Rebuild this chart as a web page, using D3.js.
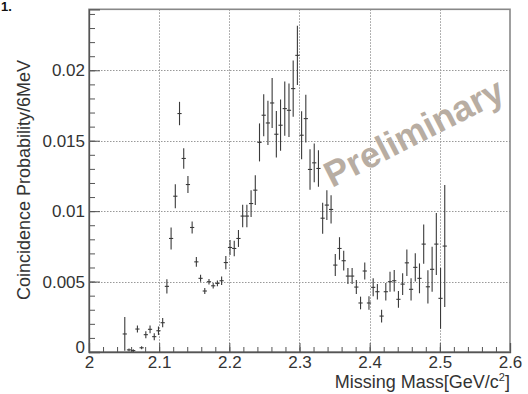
<!DOCTYPE html>
<html>
<head>
<meta charset="utf-8">
<script src="https://cdn.jsdelivr.net/npm/d3@7"></script>
<style>
  html, body { margin: 0; padding: 0; background: #fff; }
  svg { display: block; }
  text { font-family: "Liberation Sans", Arial, Helvetica, sans-serif; fill: #333; }
</style>
</head>
<body>
<svg id="chart" width="528" height="394"></svg>
<script>
// bin centres (6 MeV bins), GeV/c^2
const massCenters = [
  2.051, 2.057, 2.063, 2.069, 2.075, 2.081, 2.087, 2.093, 2.099, 2.105,
  2.111, 2.117, 2.123, 2.129, 2.135, 2.141, 2.147, 2.153, 2.159, 2.165,
  2.171, 2.177, 2.183, 2.189, 2.195, 2.201, 2.207, 2.213, 2.219, 2.225,
  2.231, 2.237, 2.243, 2.249, 2.255, 2.261, 2.267, 2.273, 2.279, 2.285,
  2.291, 2.297, 2.303, 2.309, 2.315, 2.321, 2.327, 2.333, 2.339, 2.345,
  2.351, 2.357, 2.363, 2.369, 2.375, 2.381, 2.387, 2.393, 2.399, 2.405,
  2.411, 2.417, 2.423, 2.429, 2.435, 2.441, 2.447, 2.453, 2.459, 2.465,
  2.471, 2.477, 2.483, 2.489, 2.495, 2.501, 2.507
];
const probValues = [
  0.00128, 0.00015, 0.0001, 0.00163, 0.0003, 0.00123, 0.00161, 0.00109, 0.00151, 0.00208,
  0.00466, 0.00806, 0.01106, 0.01693, 0.01374, 0.01189, 0.00884, 0.0064, 0.00523, 0.00433,
  0.00499, 0.0047, 0.00487, 0.00506, 0.00635, 0.00742, 0.00735, 0.00806, 0.00965, 0.00965,
  0.01054, 0.01149, 0.01488, 0.01681, 0.01626, 0.01768, 0.01546, 0.0161, 0.01728, 0.01716,
  0.0187, 0.02106, 0.01539, 0.01657, 0.01296, 0.01343, 0.01303, 0.0095, 0.01043, 0.01012,
  0.00617, 0.00735, 0.00648, 0.00539, 0.00539, 0.00461, 0.00348, 0.00575, 0.00348, 0.00459,
  0.00428, 0.00255, 0.00428, 0.00499, 0.00506, 0.00374, 0.00482, 0.00633, 0.00445, 0.00601,
  0.00523, 0.00766, 0.00463, 0.00587, 0.00766, 0.00381, 0.00752
];
const probErrors = [
  0.0012, 0.0001, 0.0001, 0.00025, 0.0001, 0.00025, 0.00028, 0.00025, 0.0003, 0.00033,
  0.0005, 0.00078, 0.00085, 0.00083, 0.00073, 0.0006, 0.00042, 0.00035, 0.00025, 0.00022,
  0.0002, 0.0002, 0.0002, 0.0003, 0.00047, 0.00053, 0.00055, 0.0006, 0.0008, 0.0008,
  0.00095, 0.00106, 0.00135, 0.00149, 0.00157, 0.00177, 0.00165, 0.00182, 0.00192, 0.0019,
  0.002, 0.0021, 0.0017, 0.0017, 0.00144, 0.00138, 0.0013, 0.0011, 0.00106, 0.001,
  0.00078, 0.0008, 0.0007, 0.00057, 0.00057, 0.0005, 0.00045, 0.0006, 0.00048, 0.00064,
  0.00055, 0.00045, 0.00062, 0.00071, 0.00077, 0.00059, 0.00077, 0.00094, 0.00079, 0.001,
  0.00106, 0.0014, 0.00118, 0.0016, 0.0022, 0.00216, 0.00433
];
const binHalfWidth = 0.003;
const xTicks = [2, 2.1, 2.2, 2.3, 2.4, 2.5, 2.6];
const yTicks = [0, 0.005, 0.01, 0.015, 0.02];

const points = massCenters.map((m, i) => ({ m: m, v: probValues[i], e: probErrors[i] }));

const padLeft = 89, padRight = 510, padTop = 9.3, padBottom = 352;

const svg = d3.select("#chart");

const x = d3.scaleLinear().domain([2, 2.6]).range([padLeft, padRight]);
const y = d3.scaleLinear().domain([0, 0.02433]).range([padBottom, padTop]);

// grid
const grid = svg.append("g")
  .attr("stroke", "#999")
  .attr("stroke-width", 1)
  .attr("stroke-dasharray", "1.5,1.5");
grid.selectAll(".gx")
  .data(xTicks.slice(1, -1))
  .enter().append("line")
  .attr("x1", d => Math.round(x(d)) + 0.5).attr("x2", d => Math.round(x(d)) + 0.5)
  .attr("y1", padTop).attr("y2", padBottom);
grid.selectAll(".gy")
  .data(yTicks.slice(1))
  .enter().append("line")
  .attr("y1", d => Math.round(y(d)) + 0.5).attr("y2", d => Math.round(y(d)) + 0.5)
  .attr("x1", padLeft).attr("x2", padRight);

// frame
svg.append("rect")
  .attr("x", padLeft).attr("y", padTop)
  .attr("width", padRight - padLeft).attr("height", padBottom - padTop)
  .attr("fill", "none")
  .attr("stroke", "#888")
  .attr("stroke-width", 1.6);

// minor ticks
const xMinor = d3.axisBottom(x).tickValues(d3.range(2, 2.6001, 0.02)).tickSize(-5).tickFormat("");
const yMinor = d3.axisLeft(y).tickValues(d3.range(0, 0.0243, 0.001)).tickSize(-6).tickFormat("");
svg.append("g").attr("transform", `translate(0,${padBottom})`).call(xMinor)
  .call(g => g.select(".domain").remove())
  .selectAll("line").attr("stroke", "#555");
svg.append("g").attr("transform", `translate(${padLeft},0)`).call(yMinor)
  .call(g => g.select(".domain").remove())
  .selectAll("line").attr("stroke", "#555");

// major axes
const xAxis = d3.axisBottom(x).tickValues(xTicks).tickSize(-9).tickPadding(4)
  .tickFormat(d => String(+d.toFixed(1)));
const yAxis = d3.axisLeft(y).tickValues(yTicks).tickSize(-11).tickPadding(4)
  .tickFormat(d => d === 0 ? "0" : String(+d.toFixed(3)));

const gx = svg.append("g").attr("transform", `translate(0,${padBottom})`).call(xAxis);
gx.select(".domain").attr("stroke", "#555").attr("stroke-width", 1.3);
gx.selectAll("line").attr("stroke", "#555");
gx.selectAll("text").attr("font-size", 17).attr("fill", "#333")
  .attr("font-family", "Liberation Sans, Arial, sans-serif");

const gy = svg.append("g").attr("transform", `translate(${padLeft},0)`).call(yAxis);
gy.select(".domain").attr("stroke", "#555").attr("stroke-width", 1.3);
gy.selectAll("line").attr("stroke", "#555");
gy.selectAll("text").attr("font-size", 17).attr("fill", "#333")
  .attr("font-family", "Liberation Sans, Arial, sans-serif")
  .attr("dy", d => d === 0 ? "0.05em" : "0.32em");

// axis titles
svg.append("text")
  .attr("transform", "translate(30,180) rotate(-90)")
  .attr("text-anchor", "middle")
  .attr("font-size", 18)
  .text("Coincidence Probability/6MeV");

const xt = svg.append("text")
  .attr("x", padRight).attr("y", 388)
  .attr("text-anchor", "end")
  .attr("font-size", 18);
xt.append("tspan").text("Missing Mass[GeV/c");
xt.append("tspan").attr("font-size", 11).attr("dy", -7).text("2");
xt.append("tspan").attr("dy", 7).text("]");

// data points with error bars
const pts = svg.append("g").attr("stroke", "#3a3a3a").attr("stroke-width", 1.1);
pts.selectAll(".eh")
  .data(points)
  .enter().append("line")
  .attr("x1", d => x(d.m - binHalfWidth)).attr("x2", d => x(d.m + binHalfWidth))
  .attr("y1", d => y(d.v)).attr("y2", d => y(d.v));
pts.selectAll(".ev")
  .data(points)
  .enter().append("line")
  .attr("x1", d => x(d.m)).attr("x2", d => x(d.m))
  .attr("y1", d => y(Math.max(0, d.v - d.e))).attr("y2", d => y(d.v + d.e));

// watermark
svg.append("text")
  .attr("transform", "translate(332,188) rotate(-27)")
  .attr("font-size", 36)
  .attr("font-weight", "bold")
  .style("fill", "#b8ada2")
  .text("Preliminary");

// cropped caption fragment at top-left
svg.append("text")
  .attr("x", 1).attr("y", 11)
  .attr("font-family", "Liberation Serif, serif")
  .attr("font-size", 13)
  .attr("font-weight", "bold")
  .style("fill", "#111")
  .text("1.");
</script>
</body>
</html>
